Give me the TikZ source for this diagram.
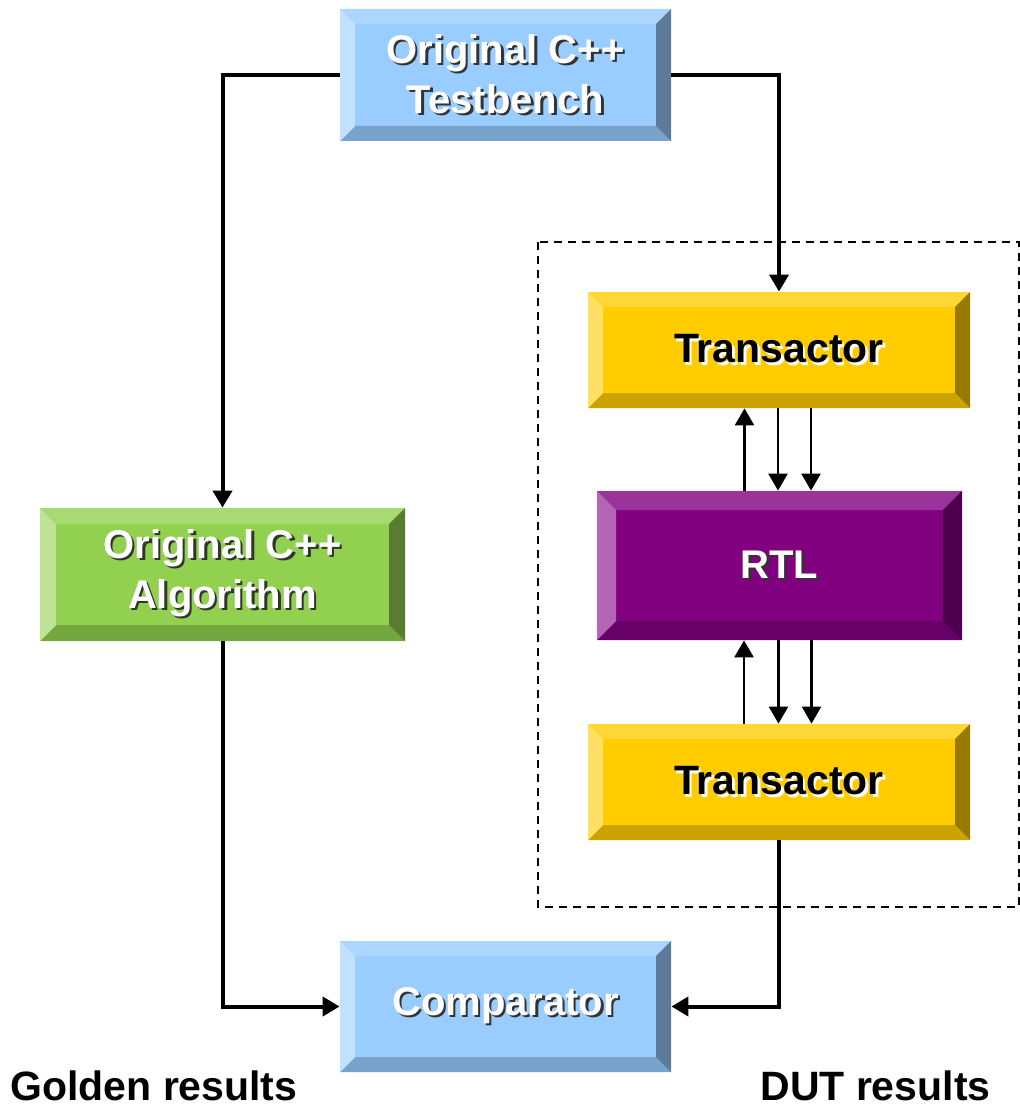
\documentclass[tikz,border=0pt]{standalone}
\usepackage{fontspec}
\setmainfont{Liberation Sans}
\usetikzlibrary{arrows.meta}
\definecolor{boxblue}{RGB}{153,204,255}
\definecolor{boxgreen}{RGB}{146,208,80}
\definecolor{boxyellow}{RGB}{255,204,0}
\definecolor{boxpurple}{RGB}{128,0,128}
\newcommand{\shadowtext}[3]{\leavevmode\rlap{\kern1.2pt\raisebox{-1.2pt}{\color{#2}#3}}{\color{#1}#3}}
\newcommand{\lighttext}[1]{\shadowtext{white}{black!80}{#1}}
\newcommand{\darktext}[1]{\shadowtext{black}{white}{#1}}
\tikzset{
	bevel/.store in=\bevelsize, bevel=7.5pt,
	bevelbox/.style={rectangle, inner sep=0pt, align=center, fill=#1,
		font={\fontsize{20pt}{25pt}\selectfont\bfseries},
		path picture={
			\coordinate (nw) at (path picture bounding box.north west);
			\coordinate (ne) at (path picture bounding box.north east);
			\coordinate (sw) at (path picture bounding box.south west);
			\coordinate (se) at (path picture bounding box.south east);
			\coordinate (inw) at ([shift={(\bevelsize,-\bevelsize)}]nw);
			\coordinate (ine) at ([shift={(-\bevelsize,-\bevelsize)}]ne);
			\coordinate (isw) at ([shift={(\bevelsize,\bevelsize)}]sw);
			\coordinate (ise) at ([shift={(-\bevelsize,\bevelsize)}]se);
			\fill[#1!80!white] (nw) -- (ne) -- (ine) -- (inw) -- cycle;
			\fill[#1!80!black] (sw) -- (se) -- (ise) -- (isw) -- cycle;
			\fill[#1!60!white] (nw) -- (inw) -- (isw) -- (sw) -- cycle;
			\fill[#1!60!black] (ne) -- (ine) -- (ise) -- (se) -- cycle;
		}},
	link/.style={black, line width=2pt},
	sublink/.style={black, line width=1.3pt},
	caption/.style={anchor=base west, inner sep=0pt, font={\fontsize{20.5pt}{24pt}\selectfont\bfseries}},
}

\begin{document}
\begin{tikzpicture}[x=0.5pt, y=-0.5pt, >={Triangle[length=8.5pt,width=9.5pt]}]
	\useasboundingbox (0,0) rectangle (1020,1107);
	% DUT frame
	\draw[black, line width=1pt, dash pattern=on 4pt off 3pt] (538,242) rectangle (1019,907);

	\node[bevelbox=boxblue, minimum width=165.5pt, minimum height=66pt] (tb) at (505.5,75) {\lighttext{Original C++}\\\lighttext{Testbench}};
	\node[bevelbox=boxgreen, bevel=8pt, minimum width=182.5pt, minimum height=66.5pt] (algo) at (222.5,574.5) {\lighttext{Original C++}\\\lighttext{Algorithm}};
	\node[bevelbox=boxyellow, minimum width=191pt, minimum height=58pt, font={\fontsize{20.5pt}{26pt}\selectfont\bfseries}] (tr1) at (779,350) {\darktext{Transactor}};
	\node[bevelbox=boxpurple, bevel=9.5pt, minimum width=182.5pt, minimum height=74.5pt] (rtl) at (779.5,565.5) {\lighttext{RTL}};
	\node[bevelbox=boxyellow, minimum width=191pt, minimum height=58pt, font={\fontsize{20.5pt}{26pt}\selectfont\bfseries}] (tr2) at (779,782) {\darktext{Transactor}};
	\node[bevelbox=boxblue, minimum width=165.5pt, minimum height=65.5pt] (comp) at (505.5,1006.5) {\lighttext{Comparator}};

	\node[caption] (golden) at (10,1100) {Golden results};
	\node[caption] (dut) at (760,1100) {DUT results};

	% testbench
	\draw[link,->](tb.west) -| (algo.north);
	\draw[link,->](tb.east) -| (tr1.north);
	% transactor / rtl
	\draw[sublink,->]([xshift=-17.5pt]rtl.north) -- ([xshift=-17.5pt]rtl.north |- tr1.south);
	\draw[sublink,->]([xshift=-0.5pt]tr1.south) -- ([xshift=-0.5pt]tr1.south |- rtl.north);
	\draw[sublink,->]([xshift=16pt]tr1.south) -- ([xshift=16pt]tr1.south |- rtl.north);
	\draw[sublink,->]([xshift=-17.5pt]tr2.north) -- ([xshift=-17.5pt]tr2.north |- rtl.south);
	\draw[sublink,->]([xshift=-0.5pt]rtl.south) -- ([xshift=-0.5pt]rtl.south |- tr2.north);
	\draw[sublink,->]([xshift=16pt]rtl.south) -- ([xshift=16pt]rtl.south |- tr2.north);
	% comparator
	\draw[link,->](algo.south) |- (comp.west);
	\draw[link,->](tr2.south) |- (comp.east);
\end{tikzpicture}
\end{document}
